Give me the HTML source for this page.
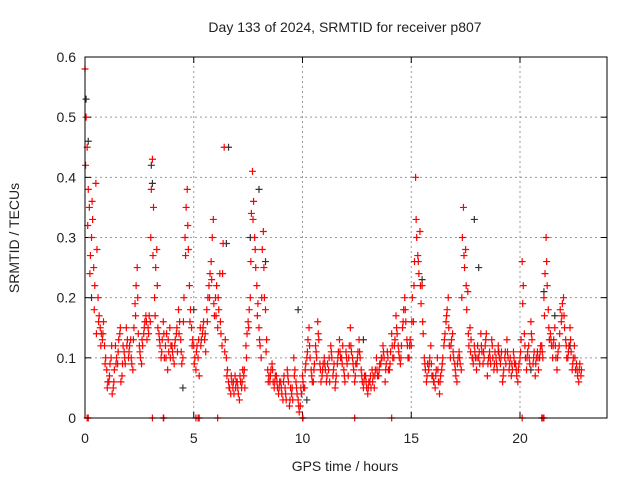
<!DOCTYPE html>
<html><head><meta charset="utf-8"><style>
body{margin:0;background:#fff;}
svg text{font-family:"Liberation Sans",sans-serif;font-size:14px;fill:#222;}
</style></head><body>
<svg id="chart" width="640" height="480">
<text x="345" y="32" text-anchor="middle">Day 133 of 2024, SRMTID for receiver p807</text>
<text transform="translate(19,238) rotate(-90)" text-anchor="middle">SRMTID / TECUs</text>
<text x="345" y="471" text-anchor="middle">GPS time / hours</text>
<g id="grid"></g>
<g id="ticks"></g>
<g id="marks"></g>
<rect x="85" y="57" width="522" height="361" fill="none" stroke="#000" stroke-width="1"/>
</svg>
<script>
const xTicks=[0,5,10,15,20];
const yTicks=[0,0.1,0.2,0.3,0.4,0.5,0.6];
const yTickLabels=["0","0.1","0.2","0.3","0.4","0.5","0.6"];
const redA=[0.58,0.45,0.35,0.3,0.25,0.39,0.2,0.15,0.13,0.12,
0.08,0.06,0.1,0.05,0.12,0.09,0.14,0.07,0.11,0.15,
0.1,0.13,0.08,0.19,0.25,0.12,0.09,0.14,0.17,0.15,
0.16,0.43,0.2,0.28,0.14,0.1,0.16,0.12,0.08,0.15,
0.12,0.09,0.14,0.18,0.13,0.1,0.3,0.38,0.22,0.15,
0.12,0.08,0.1,0.15,0.14,0.13,0.18,0.22,0.26,0.33,
0.2,0.15,0.24,0.12,0.45,0.1,0.06,0.04,0.05,0.07,
0.06,0.03,0.05,0.07,0.12,0.16,0.2,0.41,0.3,0.22,
0.15,0.1,0.31,0.18,0.08,0.06,0.09,0.05,0.07,0.04,
0.06,0.03,0.05,0.08,0.02,0.04,0.1,0.06,0.03,0.02,
0.07,0.05,0.1,0.15,0.08,0.06,0.12,0.16,0.09,0.07,
0.1,0.06,0.08,0.12,0.07,0.05,0.09,0.13,0.1,0.08,
0.11,0.07,0.15,0.1,0.06,0.09,0.13,0.08,0.05,0.07,
0.04,0.06,0.08,0.05,0.1,0.07,0.09,0.12,0.06,0.11,
0.08,0.14,0.1,0.17,0.12,0.09,0.15,0.2,0.13,0.1,
0.12,0.16,0.4,0.27,0.31,0.22,0.1,0.06,0.08,0.12,
0.07,0.05,0.1,0.04,0.08,0.12,0.16,0.2,0.1,0.14,
0.09,0.06,0.11,0.08,0.35,0.28,0.21,0.15,0.1,0.12,
0.08,0.1,0.14,0.09,0.12,0.07,0.11,0.13,0.08,0.1,
0.12,0.09,0.06,0.1,0.13,0.08,0.07,0.11,0.09,0.06,
0.1,0.26,0.14,0.08,0.12,0.16,0.09,0.07,0.11,0.1,
0.12,0.2,0.3,0.18,0.14,0.1,0.15,0.08,0.12,0.16,
0.2,0.13,0.1,0.15,0.08,0.12,0.09,0.06,0.07];
const redB=[0.5,0.38,0.27,0.33,0.22,0.28,0.17,0.14,0.16,0.1,
0.06,0.09,0.04,0.08,0.1,0.13,0.06,0.12,0.09,0.13,
0.12,0.09,0.15,0.22,0.14,0.1,0.12,0.16,0.13,0.17,
0.38,0.35,0.25,0.15,0.12,0.13,0.1,0.14,0.11,0.12,
0.1,0.13,0.11,0.16,0.09,0.2,0.35,0.28,0.18,0.13,
0.1,0.12,0.07,0.13,0.16,0.11,0.2,0.24,0.3,0.17,
0.22,0.18,0.14,0.29,0.13,0.08,0.05,0.06,0.04,0.06,
0.04,0.06,0.08,0.05,0.14,0.18,0.34,0.36,0.25,0.19,
0.12,0.28,0.2,0.13,0.07,0.08,0.06,0.07,0.05,0.06,
0.04,0.07,0.03,0.06,0.05,0.03,0.08,0.04,0.01,0.04,
0.05,0.09,0.13,0.1,0.06,0.09,0.1,0.13,0.06,0.09,
0.08,0.09,0.06,0.1,0.09,0.07,0.11,0.1,0.12,0.06,
0.09,0.12,0.11,0.08,0.09,0.11,0.1,0.06,0.07,0.05,
0.06,0.05,0.07,0.08,0.07,0.09,0.1,0.1,0.09,0.08,
0.11,0.1,0.13,0.14,0.1,0.12,0.18,0.16,0.1,0.13,
0.2,0.26,0.3,0.24,0.19,0.14,0.08,0.09,0.1,0.07,
0.06,0.08,0.06,0.07,0.1,0.14,0.18,0.12,0.13,0.1,
0.07,0.1,0.09,0.3,0.25,0.18,0.12,0.13,0.09,0.1,
0.12,0.09,0.11,0.1,0.14,0.1,0.09,0.1,0.11,0.08,
0.1,0.11,0.08,0.09,0.1,0.1,0.08,0.09,0.07,0.09,
0.13,0.22,0.1,0.11,0.09,0.13,0.11,0.1,0.08,0.12,
0.1,0.24,0.22,0.13,0.12,0.13,0.1,0.11,0.18,0.19,
0.15,0.1,0.12,0.11,0.1,0.08,0.07,0.09];
const redC=[0.42,0.32,0.24,0.36,0.18,0.14,0.16,0.12,0.14,0.09,
0.05,0.07,0.12,0.06,0.09,0.11,0.15,0.09,0.1,0.12,
0.11,0.1,0.13,0.17,0.2,0.11,0.13,0.15,0.16,0.14,
0.3,0.27,0.17,0.22,0.13,0.11,0.14,0.1,0.13,0.1,
0.11,0.12,0.15,0.14,0.11,0.16,0.27,0.32,0.16,0.12,
0.09,0.11,0.13,0.12,0.15,0.14,0.16,0.2,0.23,0.19,
0.17,0.2,0.16,0.24,0.11,0.07,0.05,0.07,0.06,0.05,
0.05,0.07,0.06,0.08,0.1,0.15,0.26,0.33,0.28,0.17,
0.13,0.2,0.25,0.11,0.06,0.07,0.08,0.06,0.06,0.05,
0.05,0.06,0.04,0.07,0.03,0.05,0.07,0.05,0.02,0.05,
0.06,0.08,0.11,0.12,0.07,0.08,0.11,0.14,0.08,0.08,
0.09,0.07,0.1,0.11,0.08,0.06,0.1,0.11,0.09,0.07,
0.1,0.1,0.12,0.09,0.07,0.1,0.11,0.07,0.06,0.06,
0.05,0.07,0.06,0.07,0.08,0.08,0.1,0.11,0.08,0.1,
0.09,0.12,0.12,0.15,0.11,0.1,0.16,0.18,0.12,0.12,
0.16,0.22,0.33,0.26,0.22,0.16,0.09,0.07,0.09,0.09,
0.06,0.07,0.08,0.06,0.09,0.13,0.17,0.15,0.12,0.11,
0.08,0.09,0.1,0.2,0.27,0.22,0.14,0.11,0.1,0.11,
0.1,0.11,0.12,0.11,0.13,0.09,0.1,0.12,0.09,0.09,
0.11,0.1,0.07,0.11,0.11,0.09,0.09,0.1,0.08,0.08,
0.11,0.19,0.12,0.1,0.1,0.14,0.1,0.09,0.1,0.11,
0.11,0.17,0.26,0.15,0.13,0.12,0.12,0.1,0.14,0.17,
0.17,0.12,0.11,0.13,0.09,0.1,0.08,0.08,0.08];
const blackTimes=[0.05,0.15,0.3,3.05,3.1,4.5,5.0,6.6,6.5,7.6,8.0,8.3,9.8,10.2,12.8,15.5,17.9,18.1,19.0,20.5,21.1,21.6,22.3];
const blackVals=[0.53,0.46,0.2,0.42,0.39,0.05,0.18,0.45,0.29,0.3,0.38,0.26,0.18,0.03,0.13,0.23,0.33,0.25,0.11,0.08,0.21,0.17,0.12];
const zeroTimes=[0.1,0.15,3.1,3.6,3.62,5.1,5.2,5.25,6.1,10.0,10.02,12.4,14.1,20.1,21.0,21.05,21.1];
const NS="http://www.w3.org/2000/svg";
const X0=85,X1=607,Y0=418,Y1=57,XMAX=24,YMAX=0.6;
function sx(v){return X0+(X1-X0)*v/XMAX;}
function sy(v){return Y0-(Y0-Y1)*v/YMAX;}
const grid=document.getElementById('grid'),ticks=document.getElementById('ticks'),marks=document.getElementById('marks');
function line(p,x1,y1,x2,y2,st,dash){const l=document.createElementNS(NS,'line');l.setAttribute('x1',x1);l.setAttribute('y1',y1);l.setAttribute('x2',x2);l.setAttribute('y2',y2);l.setAttribute('stroke',st);if(dash)l.setAttribute('stroke-dasharray',dash);p.appendChild(l);return l;}
function text(x,y,s,anchor){const t=document.createElementNS(NS,'text');t.setAttribute('x',x);t.setAttribute('y',y);t.setAttribute('text-anchor',anchor);t.textContent=s;ticks.appendChild(t);return t;}
yTicks.forEach((v,i)=>{const y=sy(v);
 if(i>0&&i<yTicks.length-1){const g=line(grid,X0,y,X1,y,'#999','2,3');}
 line(ticks,X0,y,X0+6,y,'#000');line(ticks,X1,y,X1-6,y,'#000');
 const t=text(X0-9,y+5,yTickLabels[i],'end');
 
 });
xTicks.forEach(v=>{const x=sx(v);
 if(v>0){const g=line(grid,x,Y0,x,Y1,'#999','2,3');}
 line(ticks,x,Y0,x,Y0-6,'#000');line(ticks,x,Y1,x,Y1+6,'#000');
 const t=text(x,Y0+25,String(v),'middle');
 
 });
function plus(t,v,c){const x=sx(t),y=sy(v);const g=document.createElementNS(NS,'path');
 g.setAttribute('d',`M${x-3.5} ${y}H${x+3.5}M${x} ${y-3.5}V${y+3.5}`);g.setAttribute('stroke',c);g.setAttribute('stroke-width','1.2');
 
 
 marks.appendChild(g);}
blackTimes.forEach((t,i)=>plus(t,blackVals[i],'#333'));
redA.forEach((v,i)=>plus(i*0.1,v,'#f00'));
redB.forEach((v,i)=>plus(i*0.1+0.05,v,'#f00'));
redC.forEach((v,i)=>plus(i*0.1+0.025,v,'#f00'));
zeroTimes.forEach(t=>plus(t,0,'#f00'));
</script>
</body></html>
